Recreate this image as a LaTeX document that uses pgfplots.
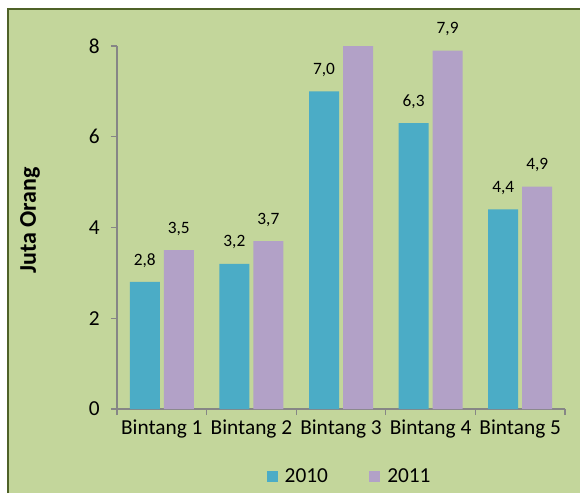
\documentclass[border=0pt]{standalone}
\usepackage{fontspec}
\setmainfont{Carlito}
\usepackage{pgfplots}
\pgfplotsset{compat=1.18}
\definecolor{bg}{HTML}{C3D69B}
\definecolor{frame}{HTML}{4F6228}
\definecolor{axgray}{HTML}{868686}
\definecolor{c2010}{HTML}{4BACC6}
\definecolor{c2011}{HTML}{B2A1C7}
\pgfplotsset{sqlegend/.style={legend image code/.code={\fill[##1] (0pt,-4.1pt) rectangle (8.25pt,4.1pt); \path (11.5pt,0pt);}}}

\begin{document}
\begin{tikzpicture}
% page: 580x493 px, 1px = 0.75pt, axis box lower left at px (117,409)
\useasboundingbox (-87.75pt,-63pt) rectangle (347.25pt,306.75pt);
\fill[white] (-87.75pt,-63pt) rectangle (347.25pt,306.75pt);
\fill[bg] (-81.75pt,-63pt) rectangle (347.25pt,300pt);
\draw[frame, line width=1.5pt] (-81.75pt,-63pt) -- (-81.75pt,300pt) -- (347.25pt,300pt);
\begin{axis}[
    at={(0,0)}, anchor=south west,
    scale only axis, width=336pt, height=272.25pt,
    xmin=-0.5, xmax=4.5, ymin=0, ymax=8,
    ybar=3pt, bar width=22.5pt,
    axis x line*=bottom, axis y line*=left,
    axis line style={-, draw=axgray, line width=0.9pt},
    tick align=outside,
    xtick={0,...,4},
    xticklabels={Bintang 1, Bintang 2, Bintang 3, Bintang 4, Bintang 5},
    minor xtick={-0.5,0.5,...,4.5},
    major x tick style={draw=none},
    minor x tick style={draw=axgray, line width=0.9pt},
    minor tick length=4.5pt,
    ytick={0,2,...,8},
    y tick style={draw=axgray, line width=0.9pt},
    major tick length=4.5pt,
    tick label style={font=\fontsize{16}{19}\selectfont},
    yticklabel style={xshift=-5pt},
    /pgf/number format/assume math mode=true,
    ylabel={Juta Orang},
    every axis y label/.style={at={(axis description cs:-0.194,0.52)},
        rotate=90, anchor=center, font=\fontsize{18}{21}\selectfont\bfseries},
    clip=false,
    point meta=explicit symbolic,
    nodes near coords,
    every node near coord/.append style={font=\fontsize{13}{15}\selectfont, black, yshift=7.5pt},
    legend columns=2,
    legend style={at={(0.52,-0.187)}, anchor=center, draw=none, fill=none,
        font=\fontsize{16}{19}\selectfont,
        /tikz/every even column/.append style={column sep=29pt}},
]
\addplot[fill=c2010, draw=none, sqlegend]
    coordinates {(0,2.8)[2,8] (1,3.2)[3,2] (2,7.0)[7,0] (3,6.3)[6,3] (4,4.4)[4,4]};
\addlegendentry{2010}
\addplot[fill=c2011, draw=none, sqlegend]
    coordinates {(0,3.5)[3,5] (1,3.7)[3,7] (2,8.0)[{}] (3,7.9)[7,9] (4,4.9)[4,9]};
\addlegendentry{2011}
\end{axis}
\end{tikzpicture}
\end{document}
